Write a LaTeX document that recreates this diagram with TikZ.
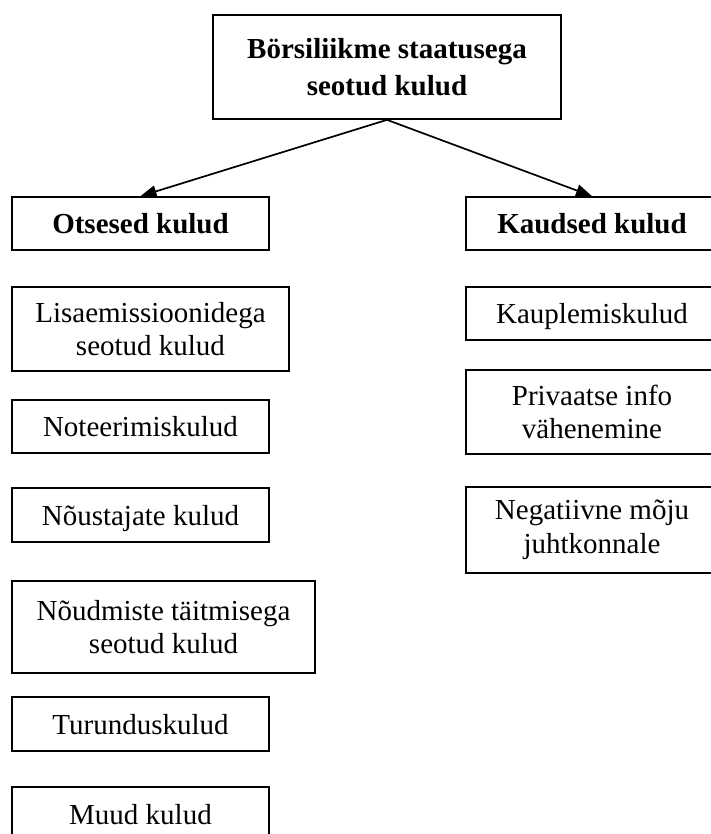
\documentclass[tikz,border=0pt]{standalone}
\usepackage{fontspec}
\setmainfont{Liberation Serif}
\usetikzlibrary{arrows.meta}

\tikzset{
  box/.style={draw, line width=1.7pt, align=center, inner sep=0pt,
              font=\fontsize{29}{33.5}\selectfont},
  oneline/.style={text height=20pt, text depth=0pt},
  headbox/.style={box, font=\fontsize{29}{37}\selectfont\bfseries},
  catbox/.style={box, oneline, font=\fontsize{29}{33.5}\selectfont\bfseries},
  branch/.style={line width=1.7pt, -{Triangle[length=16pt,width=12pt]}}
}

\begin{document}
\begin{tikzpicture}[x=1pt, y=-1pt]
  \clip (0,0) rectangle (711,834);

  % root
  \node[headbox, minimum width=348pt, minimum height=104pt] (root) at (387,67)
    {Börsiliikme staatusega\\seotud kulud};

  % two categories
  \node[catbox, minimum width=257pt, minimum height=53pt] (direct) at (140.5,223.5)
    {Otsesed kulud};
  \node[catbox, minimum width=252pt, minimum height=53pt] (indirect) at (592,223.5)
    {Kaudsed kulud};

  \draw[branch] (root.south) -- (direct.north);
  \draw[branch] (root.south) -- (indirect.north);

  % direct costs
  \node[box, minimum width=277pt, minimum height=84pt] (issue) at (150.5,329)
    {Lisaemissioonidega\\seotud kulud};
  \node[box, oneline, minimum width=257pt, minimum height=53pt] (listing) at (140.5,426.5)
    {Noteerimiskulud};
  \node[box, oneline, minimum width=257pt, minimum height=54pt] (advisors) at (140.5,515)
    {Nõustajate kulud};
  \node[box, minimum width=303pt, minimum height=92pt] (compliance) at (163.5,627)
    {Nõudmiste täitmisega\\seotud kulud};
  \node[box, oneline, minimum width=257pt, minimum height=54pt] (marketing) at (140.5,724)
    {Turunduskulud};
  \node[box, oneline, minimum width=257pt, minimum height=54pt] (other) at (140.5,814)
    {Muud kulud};

  % indirect costs
  \node[box, oneline, minimum width=252pt, minimum height=53pt] (trading) at (592,313.5)
    {Kauplemiskulud};
  \node[box, minimum width=252pt, minimum height=84pt] (privacy) at (592,412)
    {Privaatse info\\vähenemine};
  \node[box, minimum width=252pt, minimum height=86pt] (management) at (592,530)
    {Negatiivne mõju\\juhtkonnale};
\end{tikzpicture}
\end{document}
